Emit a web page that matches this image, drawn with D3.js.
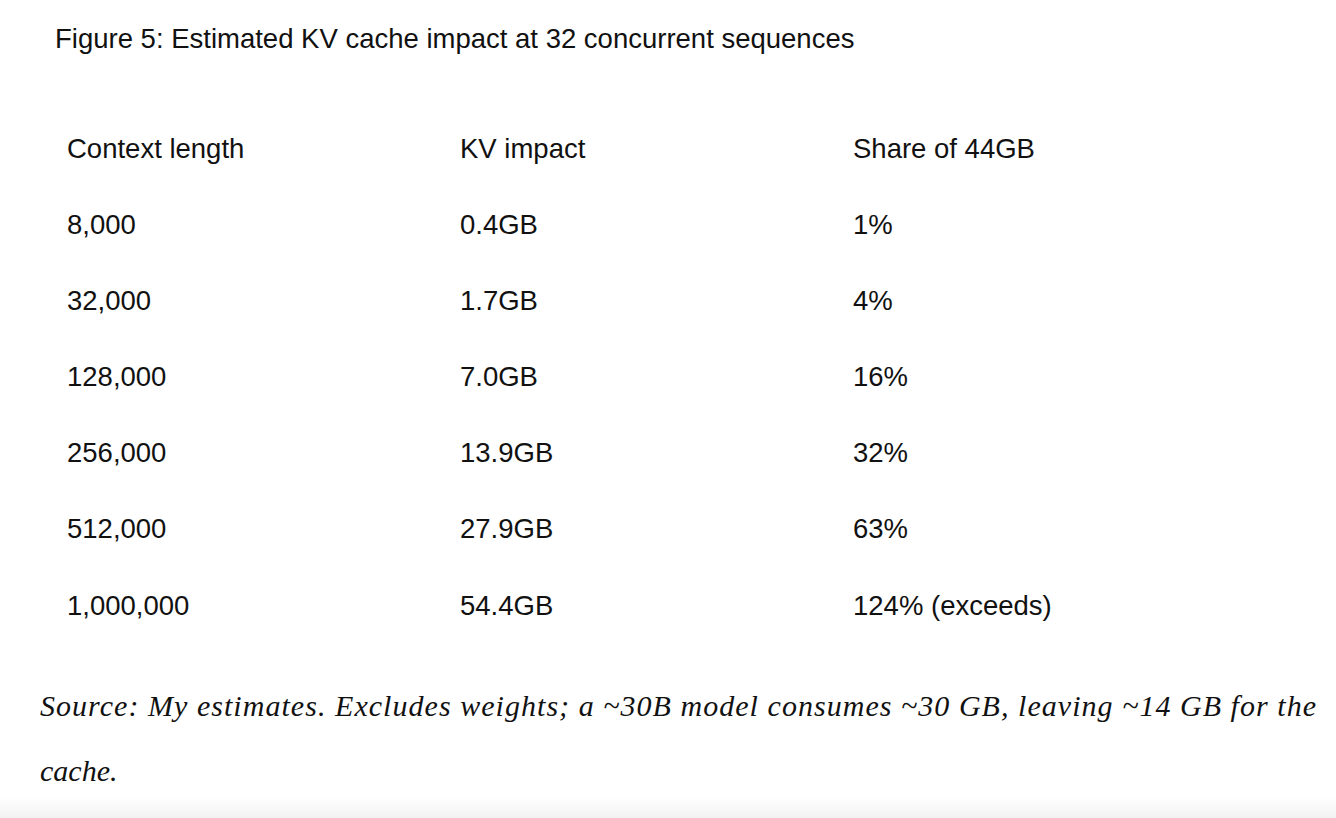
<!DOCTYPE html>
<html>
<head>
<meta charset="utf-8">
<script src="https://cdn.jsdelivr.net/npm/d3@7"></script>
<style>
  body { margin: 0; background: #fff; }
  svg { display: block; }
</style>
</head>
<body>
<svg width="1336" height="818"></svg>
<script>
const title = "Figure 5: Estimated KV cache impact at 32 concurrent sequences";
const headers = ["Context length", "KV impact", "Share of 44GB"];
const contextLengths = ["8,000", "32,000", "128,000", "256,000", "512,000", "1,000,000"];
const kvImpact = ["0.4GB", "1.7GB", "7.0GB", "13.9GB", "27.9GB", "54.4GB"];
const shares = ["1%", "4%", "16%", "32%", "63%", "124% (exceeds)"];
const sourceLines = [
  "Source: My estimates. Excludes weights; a ~30B model consumes ~30 GB, leaving ~14 GB for the",
  "cache."
];

const svg = d3.select("svg");

// faint shadow strip at the bottom
const grad = svg.append("defs").append("linearGradient")
  .attr("id", "fade").attr("x1", 0).attr("x2", 0).attr("y1", 0).attr("y2", 1);
grad.append("stop").attr("offset", 0).attr("stop-color", "#fff");
grad.append("stop").attr("offset", 1).attr("stop-color", "#f2f2f2");
svg.append("rect").attr("x", 0).attr("y", 796).attr("width", 1336).attr("height", 22)
  .attr("fill", "url(#fade)");

svg.append("text")
  .attr("x", 55).attr("y", 48)
  .attr("font-family", "Liberation Sans, Arial, sans-serif")
  .attr("font-size", 27.5).attr("fill", "#111")
  .text(title);

const cols = d3.scaleOrdinal().domain([0, 1, 2]).range([67, 460, 853]);
const rowKeys = ["header"].concat(contextLengths);
const y = d3.scalePoint().domain(rowKeys).range([148, 605]);

const rows = [headers].concat(contextLengths.map((c, i) => [c, kvImpact[i], shares[i]]));

const g = svg.append("g")
  .attr("font-family", "Liberation Sans, Arial, sans-serif")
  .attr("font-size", 27.5).attr("fill", "#111");

rows.forEach((row, ri) => {
  g.selectAll(null)
    .data(row)
    .enter()
    .append("text")
    .attr("x", (d, i) => cols(i))
    .attr("y", y(rowKeys[ri]))
    .attr("dy", "0.35em")
    .text((d) => d);
});

svg.selectAll(".src")
  .data(sourceLines)
  .enter()
  .append("text")
  .attr("class", "src")
  .attr("x", 40)
  .attr("y", (d, i) => 716 + i * 65)
  .attr("font-family", "Georgia, Liberation Serif, serif")
  .attr("font-style", "italic")
  .attr("font-size", 30)
  .attr("fill", "#111")
  .attr("textLength", (d, i) => (i === 0 ? 1276 : null))
  .attr("lengthAdjust", "spacing")
  .text((d) => d);
</script>
</body>
</html>
